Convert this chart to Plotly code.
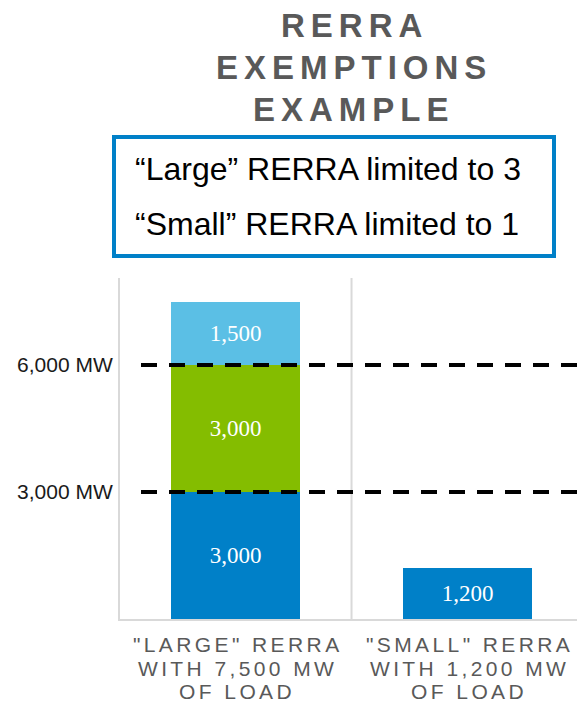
import json
import plotly.graph_objects as go

# ---- data ----
category_labels = ['"LARGE" RERRA<br>WITH 7,500 MW<br>OF LOAD',
                   '"SMALL" RERRA<br>WITH 1,200 MW<br>OF LOAD']
category_pos = [0, 1]
exempt_first = [3000, 1200]      # first block (dark blue)
exempt_second = [3000, None]     # second block (green)
exempt_third = [1500, None]      # third block (light blue)
thresholds = [3000, 6000]
threshold_labels = ["3,000 MW", "6,000 MW"]
title_lines = ["RERRA", "EXEMPTIONS", "EXAMPLE"]
box_lines = ["\u201cLarge\u201d RERRA limited to 3", "\u201cSmall\u201d RERRA limited to 1"]

# ---- styling ----
W, H = 577, 703
ML, MR, MT, MB = 120, 0, 278, 84
PW, PH = W - ML - MR, H - MT - MB
DARK_BLUE = "#0080C8"
GREEN = "#84BD00"
LIGHT_BLUE = "#5BBFE5"
GRID = "#D9D9D9"
GRAY_TXT = "#595959"
SANS = "Liberation Sans, Arial, sans-serif"
SERIF = "Liberation Serif, Times New Roman, serif"


def px_x(px):
    return (px - ML) / PW


def px_y(py):
    return (H - MB - py) / PH


fig = go.Figure()
bar_w = 0.556
for vals, col in [(exempt_first, DARK_BLUE), (exempt_second, GREEN), (exempt_third, LIGHT_BLUE)]:
    fig.add_trace(go.Bar(
        x=category_pos, y=vals, width=bar_w, marker=dict(color=col, line=dict(width=0)),
        texttemplate="%{y:,}", textposition="inside", insidetextanchor="middle",
        textangle=0, textfont=dict(family=SERIF, size=23, color="white"),
        showlegend=False, hoverinfo="skip"))

shapes = []
# middle divider
shapes.append(dict(type="line", xref="x", yref="paper", x0=0.5, x1=0.5, y0=0, y1=1,
                   line=dict(color=GRID, width=2), layer="below"))
# threshold dashed lines
for t in thresholds:
    shapes.append(dict(type="line", xref="paper", yref="y", x0=px_x(141), x1=1, y0=t, y1=t,
                       line=dict(color="black", width=4, dash="16px,12px"), layer="above"))
# box
shapes.append(dict(type="rect", xref="paper", yref="paper",
                   x0=px_x(114), x1=px_x(554), y0=px_y(256), y1=px_y(137),
                   line=dict(color=DARK_BLUE, width=4), fillcolor="rgba(0,0,0,0)"))

annotations = []
spacing = {}
TITLE_LS = 6
title_y = [25, 67.5, 109.5]
for line, yy in zip(title_lines, title_y):
    annotations.append(dict(text=line, xref="paper", yref="paper", x=px_x(351), y=px_y(yy),
                            xanchor="center", yanchor="middle", showarrow=False,
                            xshift=TITLE_LS / 2,
                            font=dict(family=SANS, size=33, color=GRAY_TXT, weight="bold")))
    spacing[line] = TITLE_LS

box_y = [168.8, 223.8]
for line, yy in zip(box_lines, box_y):
    annotations.append(dict(text=line, xref="paper", yref="paper", x=px_x(133), y=px_y(yy),
                            xanchor="left", yanchor="middle", showarrow=False,
                            font=dict(family=SANS, size=32, color="black")))

CAT_LS = 3.4
cat_y = [644, 668, 691]
for pos, lab in zip(category_pos, category_labels):
    for line, yy in zip(lab.split("<br>"), cat_y):
        annotations.append(dict(text=line, xref="x", yref="paper", x=pos, y=px_y(yy),
                                xanchor="center", yanchor="middle", showarrow=False,
                                xshift=CAT_LS / 2, borderpad=0,
                                font=dict(family=SANS, size=21, color=GRAY_TXT)))
        spacing[line] = CAT_LS

fig.update_layout(
    width=W, height=H, margin=dict(l=ML, r=MR, t=MT, b=MB, autoexpand=False),
    paper_bgcolor="white", plot_bgcolor="white", barmode="stack", bargap=0,
    shapes=shapes, annotations=annotations, showlegend=False,
    font=dict(family=SANS),
    xaxis=dict(range=[-0.498, 1.472], showgrid=False, zeroline=False, showticklabels=False,
               showline=True, linecolor=GRID, linewidth=2, ticks="", fixedrange=True),
    yaxis=dict(range=[0, 8056], showgrid=False, zeroline=False, showline=True,
               linecolor=GRID, linewidth=2, tickvals=thresholds, ticktext=threshold_labels,
               ticks="", ticklabelstandoff=1,
               tickfont=dict(family=SANS, size=21, color="#1a1a1a"), fixedrange=True),
)

post = """
(function(){
  var sp = %s;
  function apply(){
    document.body.style.margin = '0';
    document.body.style.overflow = 'hidden';
    document.querySelectorAll('.annotation-text').forEach(function(el){
      var t = el.textContent;
      if (Object.prototype.hasOwnProperty.call(sp, t)) { el.style.letterSpacing = sp[t] + 'px'; }
    });
  }
  apply();
  setTimeout(apply, 30);
  setTimeout(apply, 300);
})();
""" % json.dumps(spacing)

fig.write_html("out.html", post_script=post, config={"displayModeBar": False, "staticPlot": True})
